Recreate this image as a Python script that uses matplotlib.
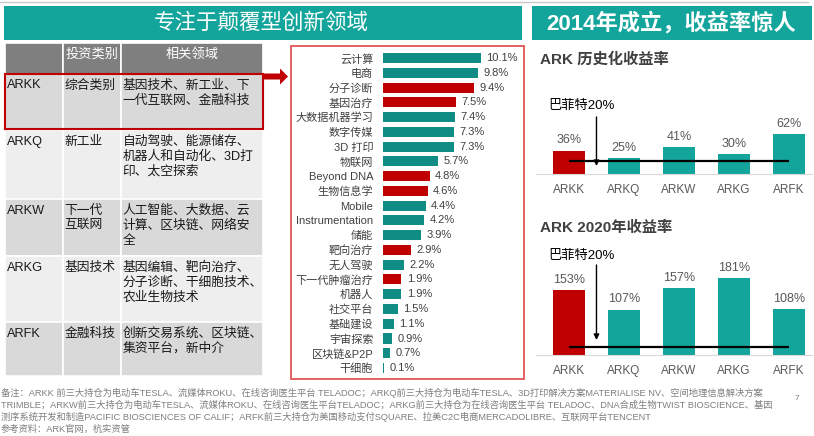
import matplotlib
matplotlib.use('Agg')
import matplotlib.pyplot as plt
from matplotlib.patches import Rectangle, Polygon

plt.rcParams['font.family'] = ['Liberation Sans', 'Noto Sans CJK SC', 'DejaVu Sans']

# ---------------- data ----------------
left_title = '专注于颠覆型创新领域'
right_title = '2014年成立，收益率惊人'

table_header = ['', '投资类别', '相关领域']
funds = ['ARKK', 'ARKQ', 'ARKW', 'ARKG', 'ARFK']
table_categories = ['综合类别', '新工业', '下一代\n互联网', '基因技术', '金融科技']
table_fields = [
    '基因技术、新工业、下\n一代互联网、金融科技',
    '自动驾驶、能源储存、\n机器人和自动化、3D打\n印、太空探索',
    '人工智能、大数据、云\n计算、区块链、网络安\n全',
    '基因编辑、靶向治疗、\n分子诊断、干细胞技术、\n农业生物技术',
    '创新交易系统、区块链、\n集资平台，新中介',
]

sectors = ['云计算', '电商', '分子诊断', '基因治疗', '大数据机器学习', '数字传媒', '3D 打印',
           '物联网', 'Beyond DNA', '生物信息学', 'Mobile', 'Instrumentation', '储能',
           '靶向治疗', '无人驾驶', '下一代肿瘤治疗', '机器人', '社交平台', '基础建设',
           '宇宙探索', '区块链&P2P', '干细胞']
sector_values = [10.1, 9.8, 9.4, 7.5, 7.4, 7.3, 7.3, 5.7, 4.8, 4.6, 4.4, 4.2, 3.9,
                 2.9, 2.2, 1.9, 1.9, 1.5, 1.1, 0.9, 0.7, 0.1]
sector_genetic = [False, False, True, True, False, False, False, False, True, True, False,
                  False, False, True, False, True, False, False, False, False, False, False]

hist_title = 'ARK 历史化收益率'
hist_returns = [36, 25, 41, 30, 62]
y2020_title = 'ARK 2020年收益率'
returns_2020 = [153, 107, 157, 181, 108]
buffett_rate = 20
buffett_label = '巴菲特20%'

footnotes = [
    '备注：ARKK 前三大持仓为电动车TESLA、流媒体ROKU、在线咨询医生平台 TELADOC；ARKQ前三大持仓为电动车TESLA、3D打印解决方案MATERIALISE NV、空间地理信息解决方案',
    'TRIMBLE；ARKW前三大持仓为电动车TESLA、流媒体ROKU、在线咨询医生平台TELADOC；ARKG前三大持仓为在线咨询医生平台 TELADOC、DNA合成生物TWIST BIOSCIENCE、基因',
    '测序系统开发和制造PACIFIC BIOSCIENCES OF CALIF；ARFK前三大持仓为美国移动支付SQUARE、拉美C2C电商MERCADOLIBRE、互联网平台TENCENT',
    '参考资料：ARK官网，杭实资管',
]
page_no = '7'

# ---------------- style ----------------
TEAL = '#13a59b'
TEAL_DARK = '#0f8c84'
RED = '#c00000'
GRAY_TXT = '#595959'

W, H = 814, 436
fig = plt.figure(figsize=(W / 100, H / 100), dpi=100)
fig.patch.set_facecolor('white')

bg = fig.add_axes([0, 0, 1, 1])
bg.set_xlim(0, W)
bg.set_ylim(H, 0)
bg.axis('off')


def px_axes(x0, y0, x1, y1):
    a = fig.add_axes([x0 / W, 1 - y1 / H, (x1 - x0) / W, (y1 - y0) / H])
    a.set_facecolor('none')
    return a


# top rule and banners
bg.plot([0, 808], [2, 2], color='#c8c8c8', lw=1)
bg.add_patch(Rectangle((4, 6), 518, 34, fc=TEAL, ec='none'))
bg.add_patch(Rectangle((532, 6), 280, 34, fc=TEAL, ec='none'))
bg.text(261, 23, left_title, color='white', fontsize=15.5, ha='center', va='center')
bg.text(671, 23, right_title, color='white', fontsize=16, fontweight='bold', ha='center', va='center')

# ---------------- table ----------------
col_x = [5, 63, 121, 263]
row_y = [43, 74, 130, 199, 256, 322, 376]
rows = [table_header] + [[f, c, t] for f, c, t in zip(funds, table_categories, table_fields)]
for r, row in enumerate(rows):
    if r == 0:
        fc = '#7f7f7f'
    elif r % 2 == 1:
        fc = '#d9d9d9'
    else:
        fc = '#eeeeee'
    for c, txt in enumerate(row):
        x0, x1 = col_x[c], col_x[c + 1]
        y0, y1 = row_y[r], row_y[r + 1]
        bg.add_patch(Rectangle((x0, y0), x1 - x0, y1 - y0, fc=fc, ec='white', lw=1.2))
        if r == 0:
            if txt:
                bg.text((x0 + x1) / 2, 54, txt, color='white', fontsize=9.5, ha='center', va='center')
        else:
            bg.text(x0 + 1.5, y0 + 5.5, txt, color='#1a1a1a', fontsize=9.2, ha='left', va='top',
                    linespacing=1.3)

bg.add_patch(Rectangle((5, 74), 258, 55, fill=False, ec=RED, lw=1.5))
bg.add_patch(Polygon([(263, 73.5), (280, 73.5), (280, 68.5), (288, 76.5), (280, 84.5),
                      (280, 79.5), (263, 79.5)], closed=True, fc=RED, ec='none'))

# middle box
bg.add_patch(Rectangle((291, 46), 233, 333, fill=False, ec='#e05555', lw=1.3))

# ---------------- middle bar chart ----------------
ax_m = px_axes(383, 50, 524, 376)
yy = list(range(len(sectors)))
colors = [RED if g else TEAL_DARK for g in sector_genetic]
ax_m.barh(yy, sector_values, height=0.68, color=colors)
ax_m.set_xlim(0, (524 - 383) / 9.7)
ax_m.set_ylim(21.54, -0.542)
ax_m.set_yticks(yy)
ax_m.set_yticklabels(sectors, fontsize=8, color='#404040')
ax_m.tick_params(axis='y', length=0, pad=7)
ax_m.set_xticks([])
for s in ax_m.spines.values():
    s.set_visible(False)
for i, v in enumerate(sector_values):
    ax_m.annotate(f'{v}%', (v, i), xytext=(4, 0), textcoords='offset points',
                  va='center', ha='left', fontsize=8, color='#404040')


# ---------------- right charts ----------------
def fund_chart(ax, values, ymax, label_y, arrow_from, arrow_to):
    x = list(range(len(funds)))
    ax.bar(x, values, width=0.58, color=[RED] + [TEAL] * (len(funds) - 1))
    ax.set_xlim(-0.6, 4.42)
    ax.set_ylim(0, ymax)
    ax.set_xticks(x)
    ax.set_xticklabels(funds, fontsize=8.5, color=GRAY_TXT)
    ax.tick_params(axis='x', length=0, pad=7)
    ax.set_yticks([])
    for k, s in ax.spines.items():
        s.set_visible(k == 'bottom')
    ax.spines['bottom'].set_color('#d9d9d9')
    for i, v in enumerate(values):
        ax.annotate(f'{v}%', (i, v), xytext=(0, 3), textcoords='offset points',
                    ha='center', va='bottom', fontsize=9, color=GRAY_TXT)
    ax.plot([0, 4], [buffett_rate, buffett_rate], color='black', lw=1.6, solid_capstyle='butt')
    ax.annotate('', xy=(0.5, arrow_to), xytext=(0.5, arrow_from),
                arrowprops=dict(arrowstyle='-|>', color='black', lw=1, mutation_scale=8,
                                shrinkA=0, shrinkB=0))
    ax.text(-0.38, label_y, buffett_label, fontsize=9.5, color='black', ha='left', va='center',
            clip_on=False)


bg.text(540, 59, hist_title, fontsize=11, fontweight='bold', color='#404040', va='center', ha='left')
ax_t = px_axes(536, 100, 812, 174)
fund_chart(ax_t, hist_returns, 74 / 0.65, (174 - 106) / 0.65, (174 - 117) / 0.65, (174 - 166) / 0.65)

bg.text(540, 228, y2020_title, fontsize=11, fontweight='bold', color='#404040', va='center', ha='left')
ax_b = px_axes(536, 245, 812, 355)
fund_chart(ax_b, returns_2020, 110 / 0.424, (355 - 256) / 0.424, (355 - 265) / 0.424, (355 - 340) / 0.424)

# ---------------- footnotes ----------------
for k, line in enumerate(footnotes):
    bg.text(1, 393 + 12 * k, line, fontsize=6.7, color='#7f7f7f', ha='left', va='center')
bg.text(795, 398, page_no, fontsize=6, color='#7f7f7f', ha='left', va='center')

fig.savefig('out.png', dpi=100)
